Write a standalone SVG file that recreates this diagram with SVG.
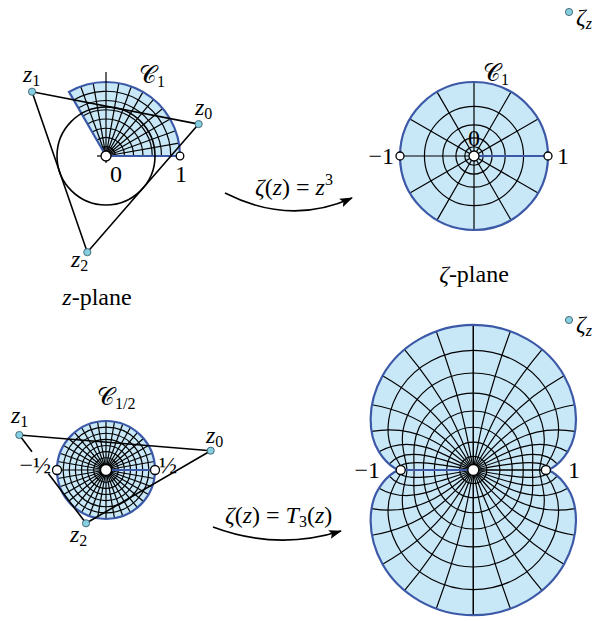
<svg xmlns="http://www.w3.org/2000/svg" xmlns:xlink="http://www.w3.org/1999/xlink" width="592" height="621" viewBox="0 0 592 621">
<style>
.t{font-family:"Liberation Serif","Times New Roman",serif;font-size:24px;fill:#000}
.i{font-style:italic}
.s{font-size:16px}
.fill{fill:#c8e7f7;stroke:none}
.g{fill:none;stroke:#000;stroke-width:1.2}
.bl{fill:none;stroke:#3c59a8;stroke-width:2.2}
.k{fill:none;stroke:#000;stroke-width:1.6}
.mk{fill:#fff;stroke:#000;stroke-width:1.3}
.dot{fill:#86cfe0;stroke:#2f5060;stroke-width:0.8}
.sg{fill:none;stroke:#000;stroke-width:0.0162}
.sb{fill:none;stroke:#3c59a8;stroke-width:0.03}
</style>
<defs>
<marker id="ah" viewBox="0 0 13 10" refX="12" refY="5" markerWidth="13" markerHeight="10" orient="auto" markerUnits="userSpaceOnUse">
<path d="M0,0.5 L13,5 L0,9.5 L2.5,5 Z" fill="#000"/>
</marker>
<path id="fq" d="M0 0 L-1 0 C-1 0.0128 -1.1546 -0.022 -1.299 -0.25 C-1.4435 -0.478 -1.478 -0.8912 -1.25 -1.299 C-1.022 -1.7068 -0.5394 -2 0 -2 Z"/>
<path id="bq" d="M-1 0 C-1 0.0128 -1.1546 -0.022 -1.299 -0.25 C-1.4435 -0.478 -1.478 -0.8912 -1.25 -1.299 C-1.022 -1.7068 -0.5394 -2 0 -2"/>
<g id="gq">
<path d="M0 0 L-1 0"/>
<path d="M0 0 C-0.4924 -0.0868 -0.9848 -0.1737 -1.0442 -0.0105"/>
<path d="M0 0 C-0.4699 -0.171 -0.9397 -0.342 -1.1595 -0.08"/>
<path d="M0 0 C-0.433 -0.25 -0.866 -0.5 -1.299 -0.25"/>
<path d="M0 0 C-0.383 -0.3214 -0.766 -0.6428 -1.3991 -0.5312"/>
<path d="M0 0 C-0.3214 -0.383 -0.6428 -0.766 -1.3972 -0.8991"/>
<path d="M0 0 C-0.25 -0.433 -0.5 -0.866 -1.25 -1.299"/>
<path d="M0 0 C-0.171 -0.4699 -0.342 -0.9397 -0.946 -1.6595"/>
<path d="M0 0 C-0.0868 -0.4924 -0.1737 -0.9848 -0.5105 -1.9102"/>
<path d="M0 0 L0 -2"/>
<path d="M-0.1865 0 C-0.1865 -0.0324 -0.1783 -0.0643 -0.1624 -0.0928 C-0.1465 -0.1213 -0.1232 -0.1454 -0.0947 -0.1624 C-0.0662 -0.1794 -0.0335 -0.1885 0 -0.1885"/>
<path d="M-0.3672 0 C-0.3672 -0.0615 -0.3534 -0.1227 -0.3248 -0.1797 C-0.2962 -0.2367 -0.2523 -0.2875 -0.1953 -0.3248 C-0.1383 -0.362 -0.0701 -0.3828 0 -0.3828"/>
<path d="M-0.5361 0 C-0.5361 -0.0842 -0.522 -0.1694 -0.4871 -0.2549 C-0.4523 -0.3404 -0.3931 -0.4232 -0.3076 -0.4871 C-0.2221 -0.5511 -0.1133 -0.5889 0 -0.5889"/>
<path d="M-0.6875 0 C-0.6875 -0.0971 -0.6808 -0.1985 -0.6495 -0.3125 C-0.6182 -0.4265 -0.5515 -0.5492 -0.4375 -0.6495 C-0.3235 -0.7499 -0.1662 -0.8125 0 -0.8125"/>
<path d="M-0.8154 0 C-0.8154 -0.0971 -0.8268 -0.2042 -0.8119 -0.3467 C-0.797 -0.4892 -0.7333 -0.6622 -0.5908 -0.8119 C-0.4483 -0.9616 -0.232 -1.0596 0 -1.0596"/>
<path d="M-0.9141 0 C-0.9141 -0.081 -0.9565 -0.1805 -0.9743 -0.3516 C-0.992 -0.5226 -0.9445 -0.759 -0.7734 -0.9743 C-0.6024 -1.1895 -0.314 -1.3359 0 -1.3359"/>
<path d="M-0.9775 0 C-0.9775 -0.0454 -1.0669 -0.1218 -1.1367 -0.3213 C-1.2065 -0.5208 -1.1907 -0.8365 -0.9912 -1.1367 C-0.7917 -1.4369 -0.4154 -1.6475 0 -1.6475"/>
</g>
</defs>

<!-- top z-plane -->
<g id="z-plane-top" transform="translate(106,156)">
<path class="fill" d="M0 0 L74 0 A74 74 0 0 0 -37 -64.086 Z"/>
<g class="g">
<path d="M9.25 0 A9.25 9.25 0 0 0 -4.625 -8.011"/>
<path d="M18.5 0 A18.5 18.5 0 0 0 -9.25 -16.022"/>
<path d="M27.75 0 A27.75 27.75 0 0 0 -13.875 -24.032"/>
<path d="M37 0 A37 37 0 0 0 -18.5 -32.043"/>
<path d="M46.25 0 A46.25 46.25 0 0 0 -23.125 -40.054"/>
<path d="M55.5 0 A55.5 55.5 0 0 0 -27.75 -48.065"/>
<path d="M64.75 0 A64.75 64.75 0 0 0 -32.375 -56.075"/>
<line x2="74" transform="rotate(-10)"/><line x2="74" transform="rotate(-20)"/><line x2="74" transform="rotate(-30)"/>
<line x2="74" transform="rotate(-40)"/><line x2="74" transform="rotate(-50)"/><line x2="74" transform="rotate(-60)"/>
<line x2="74" transform="rotate(-70)"/><line x2="74" transform="rotate(-80)"/><line x2="74" transform="rotate(-100)"/>
<line x2="74" transform="rotate(-110)"/>
</g>
<path class="bl" d="M0 0 L74 0 A74 74 0 0 0 -37 -64.086 Z"/>
<line class="k" x1="0" y1="-84" x2="0" y2="7" style="stroke-width:1.2"/>
<line class="k" x1="-9" y1="0" x2="0" y2="0" style="stroke-width:1.2"/>
<circle class="k" cx="0" cy="0" r="49"/>
<polygon class="k" points="92.66,-31.91 -73.96,-64.29 -18.7,96.2"/>
<circle class="mk" cx="0" cy="0" r="5"/>
<circle class="mk" cx="74" cy="0" r="3.8"/>
<circle class="dot" cx="92.66" cy="-31.91" r="3.6"/>
<circle class="dot" cx="-73.96" cy="-64.29" r="3.6"/>
<circle class="dot" cx="-18.7" cy="96.2" r="3.6"/>
</g>
<g id="z-plane-top-labels">
<text class="t" x="23" y="82"><tspan class="i">z</tspan><tspan class="s" dy="4">1</tspan></text>
<text class="t" x="139" y="83">𝒞<tspan class="s" dy="4">1</tspan></text>
<text class="t" x="195" y="115"><tspan class="i">z</tspan><tspan class="s" dy="4">0</tspan></text>
<text class="t" x="110" y="182">0</text>
<text class="t" x="175" y="182">1</text>
<text class="t" x="71" y="267"><tspan class="i">z</tspan><tspan class="s" dy="4">2</tspan></text>
<text class="t" x="97" y="305" text-anchor="middle"><tspan class="i">z</tspan>-plane</text>
</g>

<!-- top zeta-plane -->
<g id="zeta-plane-top" transform="translate(474,156)">
<circle class="fill" r="74"/>
<g class="g">
<circle r="49.57"/><circle r="31.22"/><circle r="18.07"/><circle r="9.25"/>
<line x2="74" transform="rotate(30)"/><line x2="74" transform="rotate(60)"/><line x2="74" transform="rotate(90)"/>
<line x2="74" transform="rotate(120)"/><line x2="74" transform="rotate(150)"/><line x2="74" transform="rotate(180)"/>
<line x2="74" transform="rotate(210)"/><line x2="74" transform="rotate(240)"/><line x2="74" transform="rotate(270)"/>
<line x2="74" transform="rotate(300)"/><line x2="74" transform="rotate(330)"/>
</g>
<line class="bl" x1="0" y1="0" x2="74" y2="0"/>
<circle class="bl" r="74"/>
<circle class="mk" r="5"/>
<circle class="mk" cx="-74" r="4"/>
<circle class="mk" cx="74" r="4"/>
</g>
<g id="zeta-plane-top-labels">
<text class="t" x="483" y="81">𝒞<tspan class="s" dy="4">1</tspan></text>
<text class="t" x="468" y="146">0</text>
<text class="t" x="394" y="164" text-anchor="end">−1</text>
<text class="t" x="557" y="164">1</text>
<text class="t" x="474" y="282" text-anchor="middle"><tspan class="i">ζ</tspan>-plane</text>
<circle class="dot" cx="569" cy="12" r="3.6"/>
<text class="t" x="576" y="25"><tspan class="i">ζ</tspan><tspan class="s i" dy="4">z</tspan></text>
</g>

<!-- bottom z-plane -->
<g id="z-plane-bottom" transform="translate(106,470)">
<circle class="fill" r="49"/>
<g class="g">
<circle r="6.125"/><circle r="12.25"/><circle r="18.375"/><circle r="24.5"/><circle r="30.625"/><circle r="36.75"/><circle r="42.875"/>
<line x2="49" transform="rotate(10)"/><line x2="49" transform="rotate(20)"/><line x2="49" transform="rotate(30)"/><line x2="49" transform="rotate(40)"/>
<line x2="49" transform="rotate(50)"/><line x2="49" transform="rotate(60)"/><line x2="49" transform="rotate(70)"/><line x2="49" transform="rotate(80)"/>
<line x2="49" transform="rotate(90)"/><line x2="49" transform="rotate(100)"/><line x2="49" transform="rotate(110)"/><line x2="49" transform="rotate(120)"/>
<line x2="49" transform="rotate(130)"/><line x2="49" transform="rotate(140)"/><line x2="49" transform="rotate(150)"/><line x2="49" transform="rotate(160)"/>
<line x2="49" transform="rotate(170)"/><line x2="49" transform="rotate(180)"/><line x2="49" transform="rotate(190)"/><line x2="49" transform="rotate(200)"/>
<line x2="49" transform="rotate(210)"/><line x2="49" transform="rotate(220)"/><line x2="49" transform="rotate(230)"/><line x2="49" transform="rotate(240)"/>
<line x2="49" transform="rotate(250)"/><line x2="49" transform="rotate(260)"/><line x2="49" transform="rotate(270)"/><line x2="49" transform="rotate(280)"/>
<line x2="49" transform="rotate(290)"/><line x2="49" transform="rotate(300)"/><line x2="49" transform="rotate(310)"/><line x2="49" transform="rotate(320)"/>
<line x2="49" transform="rotate(330)"/><line x2="49" transform="rotate(340)"/><line x2="49" transform="rotate(350)"/>
</g>
<line class="bl" x1="0" y1="0" x2="49" y2="0"/>
<circle class="bl" r="49"/>
<line class="k" x1="-86.7" y1="-35" x2="104.7" y2="-19.3"/>
<line class="k" x1="104.7" y1="-19.3" x2="-20" y2="53.3"/>
<line class="k" x1="-86.7" y1="-35" x2="-74" y2="-18.2"/>
<line class="k" x1="-57.7" y1="3.4" x2="-20" y2="53.3"/>
<circle class="mk" r="5.5"/>
<circle class="mk" cx="-49" r="4.5"/>
<circle class="mk" cx="49" r="4.5"/>
<circle class="dot" cx="-86.7" cy="-35" r="3.6"/>
<circle class="dot" cx="104.7" cy="-19.3" r="3.6"/>
<circle class="dot" cx="-20" cy="53.3" r="3.6"/>
</g>
<g id="z-plane-bottom-labels">
<text class="t" x="97" y="405">𝒞<tspan class="s" dy="4">1/2</tspan></text>
<text class="t" x="11" y="423"><tspan class="i">z</tspan><tspan class="s" dy="4">1</tspan></text>
<text class="t" x="206" y="443"><tspan class="i">z</tspan><tspan class="s" dy="4">0</tspan></text>
<text class="t" x="51" y="473" text-anchor="end">−½</text>
<text class="t" x="159" y="473">½</text>
<text class="t" x="70" y="542"><tspan class="i">z</tspan><tspan class="s" dy="4">2</tspan></text>
</g>

<!-- bottom zeta-plane -->
<g id="zeta-plane-bottom" transform="translate(473.3,470) scale(72.6,-72.6)">
<g class="fill">
<use xlink:href="#fq"/><use xlink:href="#fq" transform="scale(-1,1)"/><use xlink:href="#fq" transform="scale(1,-1)"/><use xlink:href="#fq" transform="scale(-1,-1)"/>
</g>
<g class="sg">
<use xlink:href="#gq"/><use xlink:href="#gq" transform="scale(-1,1)"/><use xlink:href="#gq" transform="scale(1,-1)"/><use xlink:href="#gq" transform="scale(-1,-1)"/>
</g>
<path class="sb" d="M0 0 L-1 0"/>
<g class="sb">
<use xlink:href="#bq"/><use xlink:href="#bq" transform="scale(-1,1)"/><use xlink:href="#bq" transform="scale(1,-1)"/><use xlink:href="#bq" transform="scale(-1,-1)"/>
</g>
</g>
<g id="zeta-plane-bottom-markers">
<circle class="mk" cx="473.3" cy="470" r="5.5"/>
<circle class="mk" cx="400.7" cy="470" r="4.5"/>
<circle class="mk" cx="545.9" cy="470" r="4.5"/>
<text class="t" x="380" y="478" text-anchor="end">−1</text>
<text class="t" x="568" y="478">1</text>
<circle class="dot" cx="569" cy="320" r="3.6"/>
<text class="t" x="576" y="332"><tspan class="i">ζ</tspan><tspan class="s i" dy="4">z</tspan></text>
</g>

<!-- connectors -->
<g id="connectors">
<path class="k" d="M225 193 Q290 226 352 198" marker-end="url(#ah)"/>
<path class="k" d="M213 527 Q277 551 341 531" marker-end="url(#ah)"/>
<text class="t" x="255" y="195"><tspan class="i">ζ</tspan>(<tspan class="i">z</tspan>) = <tspan class="i">z</tspan><tspan class="s" dy="-10">3</tspan></text>
<text class="t" x="225" y="523"><tspan class="i">ζ</tspan>(<tspan class="i">z</tspan>) = <tspan class="i">T</tspan><tspan class="s" dy="4">3</tspan><tspan dy="-4">(</tspan><tspan class="i">z</tspan>)</text>
</g>
</svg>
